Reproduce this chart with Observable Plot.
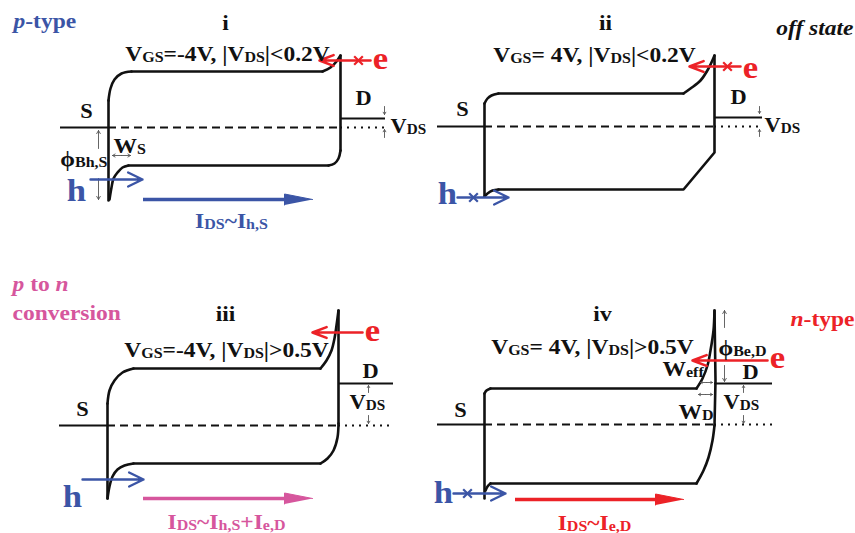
<!DOCTYPE html>
<html><head><meta charset="utf-8">
<script src="https://cdn.jsdelivr.net/npm/d3@7"></script>
<script src="https://cdn.jsdelivr.net/npm/@observablehq/plot@0.6"></script>
<style>body{margin:0;background:#fff}svg{display:block}</style>
</head><body><div id="chart"></div>
<script>
// ---------- data (figure coordinates) ----------
// band edges: [panel, edge, points]
const bandEdges = [
  ["i","cond",[[108,200],[108,100],[110,88],[114,79],[121,73],[131,71],[322,71],[330,67],[336,61],[340,55]]],
  ["i","val",[[340,55],[340,150],[338,158],[334,163],[328,165],[128,165],[122,167],[117,172],[113,178],[111,187],[109,199]]],
  ["ii","cond",[[484,196],[484,103],[487,98],[491,95],[498,93],[683,93],[690,88],[700,80],[708,68],[714,55]]],
  ["ii","val",[[714,55],[714,152],[683,189],[498,189],[492,190],[487,193],[484,196]]],
  ["iii","cond",[[107,498],[107,403],[109,390],[114,380],[122,372],[133,368],[320,368],[326,360],[331,350],[334,338],[336,325],[338,310]]],
  ["iii","val",[[338,310],[338,423],[337,437],[333,450],[327,458],[320,463],[133,463],[124,465],[117,469],[112,476],[109,486],[107,498]]],
  ["iv","cond",[[484,498],[484,393],[486,390],[490,388],[696,388],[702,378],[707,365],[710,350],[713,330],[714,310]]],
  ["iv","val",[[714,310],[715,380],[714,425],[712,440],[708,457],[703,470],[696,483],[490,483],[487,486],[485,490]]]
];
// Fermi levels [x1, x2, y]
const fermiSolid  = [[60,108,127],[340,385,118],[437,484,126],[714,762,117],[59,107,425],[338,393,383],[437,484,424],[714,772,383]];
const fermiDashed = [[108,340,127],[484,714,126],[107,338,425],[484,714,424]];
const fermiDotted = [[340,385,127],[714,762,126],[338,393,425],[714,772,424]];
// carrier injection arrows
const carrierArrows = [
  {x1:90,y1:179,x2:142,y2:179,c:"h"},{x1:370,y1:60,x2:319,y2:60,c:"e"},
  {x1:457,y1:197,x2:508,y2:197,c:"h"},{x1:740,y1:66,x2:689,y2:66,c:"e"},
  {x1:82,y1:479,x2:143,y2:479,c:"h"},{x1:362,y1:332,x2:312,y2:332,c:"e"},
  {x1:453,y1:493,x2:505,y2:493,c:"h"},{x1:767,y1:360,x2:692,y2:360,c:"e"}
];
const blocked = [{x:358,y:60,c:"e"},{x:473,y:197,c:"h"},{x:727,y:66,c:"e"},{x:467,y:493,c:"h"}];
const currentArrows = [{x1:143,x2:312,y:199,c:"h"},{x1:143,x2:312,y:498,c:"both"},{x1:515,x2:683,y:499,c:"e"}];
// thin dimension arrows
const guideArrows = [
  [384,106,384,114],[384,137,384,129],[98,148,98,130],[98,178,98,199],[121,155,112,155],[121,155,130,155],
  [759,106,759,113],[759,136,759,129],
  [368,392,368,385],[368,415,368,423],
  [743,392,743,385],[743,415,743,423],[724,327,724,310],[724,365,724,381],
  [706,382,700,382],[706,382,712,382],[705,394,698,394],[705,394,712,394]
];
// labels: text, x, baseline y, role, anchor   (_{..} subscript, %{..} italic)
const labels = [
  ["%{p}-type",13,27,"tagBlue","start"],
  ["i",225,29,"title","middle"],
  ["V_{GS}=-4V, |V_{DS}|<0.2V",227,60,"cond","middle"],
  ["S",86,117,"term","middle"],["D",363,104,"term","middle"],
  ["V_{DS}",390,132,"term","start"],
  ["W_{S}",113,152,"sym","start"],["ϕ_{Bh,S}",107,165,"sym","end"],
  ["h",76,200,"hole","middle"],["e",380,68,"elec","middle"],
  ["I_{DS}~I_{h,S}",231,227,"curBlue","middle"],
  ["ii",605,29,"title","middle"],
  ["V_{GS}= 4V, |V_{DS}|<0.2V",594,61,"cond","middle"],
  ["%{off state}",853,34,"tagBlack","end"],
  ["S",462,115,"term","middle"],["D",738,103,"term","middle"],
  ["V_{DS}",764,131,"term","start"],
  ["h",447,203,"hole","middle"],["e",750,77,"elec","middle"],
  ["%{p} to %{n}",12,290,"tagPink","start"],["conversion",12,319,"tagPink","start"],
  ["iii",225,320,"title","middle"],
  ["V_{GS}=-4V, |V_{DS}|>0.5V",226,356,"cond","middle"],
  ["S",82,415,"term","middle"],["D",370,377,"term","middle"],
  ["V_{DS}",349,408,"term","start"],
  ["e",372,340,"elec","middle"],["h",72,506,"hole","middle"],
  ["I_{DS}~I_{h,S}+I_{e,D}",226,528,"curPink","middle"],
  ["iv",602,320,"title","middle"],
  ["V_{GS}= 4V, |V_{DS}|>0.5V",592,353,"cond","middle"],
  ["%{n}-type",790,325,"tagRed","start"],
  ["S",460,416,"term","middle"],["D",750,378,"term","middle"],
  ["V_{DS}",723,408,"term","start"],
  ["ϕ_{Be,D}",718,354,"sym","start"],["W_{eff}",662,375,"sym","start"],["W_{D}",678,418,"sym","start"],
  ["e",777,367,"elec","middle"],["h",443,502,"hole","middle"],
  ["I_{DS}~I_{e,D}",594,529,"curRed","middle"]
];

// ---------- styles ----------
const BLACK="#111111", BLUE="#3b55a6", RED="#ec2227", PINK="#d6569d", GREY="#555555";
const carrierColor = {h:BLUE, e:RED, both:PINK};
const roleStyle = {
  tagBlue:[21,BLUE], tagRed:[21,RED], tagPink:[21,PINK], tagBlack:[21,BLACK],
  title:[21,BLACK], cond:[21,BLACK], term:[20,BLACK], sym:[21,BLACK],
  hole:[31,BLUE], elec:[31,RED], curBlue:[21,BLUE], curPink:[21,PINK], curRed:[21,RED]
};
const FONT = "'Liberation Serif','Times New Roman',serif";
const STRETCH = 1.12, SUB_SCALE = 0.68, SUB_DROP = 0.07;

// split each band edge into straight runs (long segments) and rounded runs (short segments)
const straightRows = [], roundRows = [];
let sid = 0;
for (const [p, e, pts] of bandEdges) {
  let run = [pts[0]], kind = null;
  const flush = () => { const tgt = kind ? roundRows : straightRows; const id = sid++; run.forEach(([x,y]) => tgt.push({id, x, y})); };
  for (let i = 1; i < pts.length; i++) {
    const curved = Math.hypot(pts[i][0]-pts[i-1][0], pts[i][1]-pts[i-1][1]) < 22;
    if (kind !== null && curved !== kind) { flush(); run = [pts[i-1]]; }
    kind = curved; run.push(pts[i]);
  }
  flush();
}
const seg = a => a.map(([x1,x2,y]) => ({x1,x2,y}));
const labelRows = labels.map(([text,x,y,role,anchor]) => ({text,x,y,role,anchor}));
const heads = currentArrows.flatMap((a,i) => [
  {id:i,x:a.x2,y:a.y,c:a.c},{id:i,x:a.x2-28,y:a.y-5.5,c:a.c},{id:i,x:a.x2-28,y:a.y+5.5,c:a.c}]);

const textMark = anchor => Plot.text(labelRows.filter(d => d.anchor === anchor), {
  x:"x", y:"y", text:"text", textAnchor:anchor, lineAnchor:"bottom",
  fontSize: d => roleStyle[d.role][0], fill: d => roleStyle[d.role][1],
  fontFamily: FONT, fontWeight:"bold"
});
const bandStyle = {x:"x", y:"y", z:"id", stroke:BLACK, strokeWidth:2.6, strokeLinejoin:"round", strokeLinecap:"round"};

const chart = Plot.plot({
  width:855, height:533, margin:0,
  x:{domain:[0,855], range:[0,855], axis:null},
  y:{domain:[0,533], range:[0,533], axis:null},
  color:{type:"identity"},
  style:{fontFamily:FONT, background:"white"},
  marks:[
    Plot.ruleY(seg(fermiSolid), {x1:"x1", x2:"x2", y:"y", stroke:BLACK, strokeWidth:2.2}),
    Plot.ruleY(seg(fermiDashed), {x1:"x1", x2:"x2", y:"y", stroke:BLACK, strokeWidth:2.2, strokeDasharray:"8,5"}),
    Plot.ruleY(seg(fermiDotted), {x1:"x1", x2:"x2", y:"y", stroke:BLACK, strokeWidth:2, strokeDasharray:"2,5"}),
    Plot.line(straightRows, {...bandStyle, curve:"linear"}),
    Plot.line(roundRows, {...bandStyle, curve:"catmull-rom"}),
    Plot.arrow(guideArrows, {x1:d=>d[0], y1:d=>d[1], x2:d=>d[2], y2:d=>d[3], stroke:GREY, strokeWidth:0.9, headLength:6, headAngle:60}),
    Plot.arrow(carrierArrows.filter(d=>d.c==="h"), {x1:"x1", y1:"y1", x2:"x2", y2:"y2", stroke:BLUE, strokeWidth:2.4, headLength:10, headAngle:52}),
    Plot.arrow(carrierArrows.filter(d=>d.c==="e"), {x1:"x1", y1:"y1", x2:"x2", y2:"y2", stroke:RED, strokeWidth:2.6, headLength:8.7, headAngle:42}),
    Plot.dot(blocked, {x:"x", y:"y", symbol:"times", r:4, stroke:d=>carrierColor[d.c], strokeWidth:2.2}),
    Plot.ruleY(currentArrows, {x1:"x1", x2:d=>d.x2-20, y:"y", stroke:d=>carrierColor[d.c], strokeWidth:3.5}),
    Plot.line(heads, {x:"x", y:"y", z:"id", fill:d=>carrierColor[d.c], stroke:d=>carrierColor[d.c], strokeWidth:1}),
    textMark("start"), textMark("middle"), textMark("end")
  ]
});
document.getElementById("chart").appendChild(chart);

// rich text: subscripts / italics, and horizontal stretch of the serif glyphs
const NS = "http://www.w3.org/2000/svg";
for (const t of chart.querySelectorAll("text")) {
  const tr = t.getAttribute("transform");
  if (tr) t.setAttribute("transform", tr + ` scale(${STRETCH},1)`);
  const s = t.textContent;
  if (!/[_%]\{/.test(s)) continue;
  const fs = parseFloat(t.getAttribute("font-size")) || 20;
  t.textContent = "";
  const re = /([_%])\{([^}]*)\}|[^_%]+|[_%]/g;
  let m, off = 0;
  while ((m = re.exec(s))) {
    const ts = document.createElementNS(NS, "tspan");
    const sub = m[1] === "_";
    const target = sub ? fs*SUB_DROP : 0;
    if (target !== off) { ts.setAttribute("dy", (target - off).toFixed(2)); off = target; }
    if (sub) ts.setAttribute("font-size", (fs*SUB_SCALE).toFixed(1));
    if (m[1] === "%") ts.setAttribute("font-style", "italic");
    ts.textContent = m[1] ? m[2] : m[0];
    t.appendChild(ts);
  }
}
</script></body></html>
